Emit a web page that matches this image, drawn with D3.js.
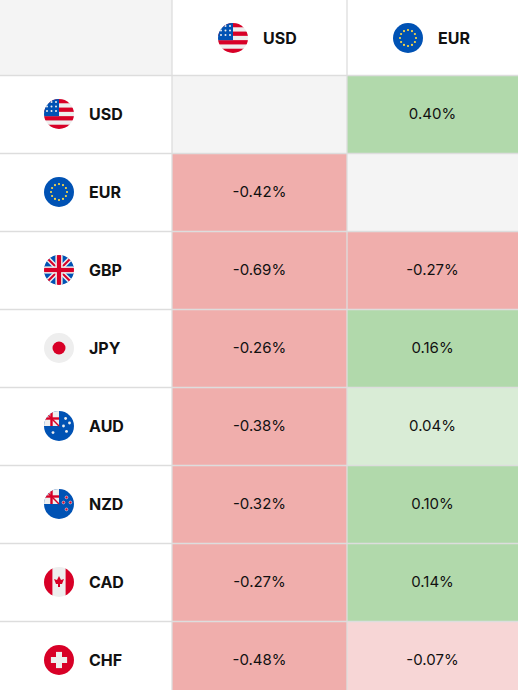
<!DOCTYPE html>
<html><head><meta charset="utf-8">
<script src="https://cdn.jsdelivr.net/npm/d3@7"></script>
<style>body{margin:0;background:#fff}svg{display:block;font-family:Inter,"Noto Sans",sans-serif}</style>
</head><body><svg id="c" width="518" height="690"></svg>
<script>
const rowCurrencies = ["USD","EUR","GBP","JPY","AUD","NZD","CAD","CHF"];
const colCurrencies = ["USD","EUR"];
const usdValues = [null,-0.42,-0.69,-0.26,-0.38,-0.32,-0.27,-0.48];
const eurValues = [0.40,null,-0.27,0.16,0.04,0.10,0.14,-0.07];
const seriesValues = [usdValues, eurValues];

const svg = d3.select("#c");
const x = d3.scaleOrdinal().domain(["label", ...colCurrencies]).range([0,172,347]);
const colW = {label:172, USD:175, EUR:171};
const y = d3.scaleBand().domain(["header", ...rowCurrencies]).range([-3,699]).padding(0);
const color = d3.scaleThreshold().domain([-0.1,0,0.1]).range(["#f0aeac","#f7d6d6","#d9ecd6","#b1d9ab"]);

const defs = svg.append("defs");
function flag(g, code, cx, cy, id){
  const r=15;
  defs.append("clipPath").attr("id",id).append("circle").attr("cx",cx).attr("cy",cy).attr("r",r);
  const f = g.append("g").attr("clip-path",`url(#${id})`);
  const bx=cx-r, by=cy-r, s=2*r;
  const rect=(a,b,w,h,c)=>f.append("rect").attr("x",bx+a*s).attr("y",by+b*s).attr("width",w*s).attr("height",h*s).attr("fill",c);
  if(code==="USD"){
    rect(0,0,1,1,"#eeeeee");
    for(let i=0;i<7;i+=2) rect(0,i/7,1,1/7,"#d80027");
    rect(0,0,0.5,4/7,"#0052b4");
    for(let i=0;i<3;i++)for(let j=0;j<3;j++) f.append("circle").attr("cx",bx+s*(0.1+j*0.15)).attr("cy",by+s*(0.1+i*0.15)).attr("r",1).attr("fill","#eee");
  } else if(code==="EUR"){
    rect(0,0,1,1,"#0052b4");
    for(let k=0;k<12;k++){const a=k*Math.PI/6;f.append("circle").attr("cx",cx+8*Math.cos(a)).attr("cy",cy+8*Math.sin(a)).attr("r",1.1).attr("fill","#ffda44");}
  } else if(code==="GBP"){
    rect(0,0,1,1,"#eeeeee");
    const bl=[[0.43,0],[0.43,0.57],[1,0.57],[0.57,1],[0,0.43],[0.57,0.43]];
    [[0,0,0.4,0.4],[0.6,0,0.4,0.4],[0,0.6,0.4,0.4],[0.6,0.6,0.4,0.4]].forEach(q=>rect(...q,"#0052b4"));
    f.append("line").attr("x1",bx).attr("y1",by).attr("x2",bx+s).attr("y2",by+s).attr("stroke","#eee").attr("stroke-width",5);
    f.append("line").attr("x1",bx+s).attr("y1",by).attr("x2",bx).attr("y2",by+s).attr("stroke","#eee").attr("stroke-width",5);
    f.append("line").attr("x1",bx).attr("y1",by).attr("x2",bx+s).attr("y2",by+s).attr("stroke","#d80027").attr("stroke-width",2);
    f.append("line").attr("x1",bx+s).attr("y1",by).attr("x2",bx).attr("y2",by+s).attr("stroke","#d80027").attr("stroke-width",2);
    rect(0.38,0,0.24,1,"#eee");rect(0,0.38,1,0.24,"#eee");
    rect(0.43,0,0.14,1,"#d80027");rect(0,0.43,1,0.14,"#d80027");
  } else if(code==="JPY"){
    rect(0,0,1,1,"#eeeeee");
    f.append("circle").attr("cx",cx).attr("cy",cy).attr("r",6.5).attr("fill","#d80027");
  } else if(code==="AUD"||code==="NZD"){
    rect(0,0,1,1,"#0052b4");
    rect(0,0,0.5,0.5,"#eee");
    f.append("line").attr("x1",bx).attr("y1",by).attr("x2",cx).attr("y2",cy).attr("stroke","#d80027").attr("stroke-width",1.5);
    rect(0.21,0,0.08,0.5,"#d80027");rect(0,0.21,0.5,0.08,"#d80027");
    const st = code==="AUD"?[[0.72,0.25],[0.85,0.4],[0.65,0.5],[0.75,0.68],[0.3,0.72]]:[[0.75,0.28],[0.88,0.45],[0.65,0.45],[0.75,0.68]];
    st.forEach(p=>f.append("circle").attr("cx",bx+p[0]*s).attr("cy",by+p[1]*s).attr("r",1.4).attr("fill",code==="AUD"?"#eee":"#d80027").attr("stroke",code==="NZD"?"#eee":"none").attr("stroke-width",0.6));
  } else if(code==="CAD"){
    rect(0,0,1,1,"#eeeeee");rect(0,0,0.28,1,"#d80027");rect(0.72,0,0.28,1,"#d80027");
    f.append("path").attr("d",`M${cx},${cy-6}L${cx+2},${cy-2}L${cx+5},${cy-3}L${cx+3},${cy+2}L${cx+1},${cy+2}L${cx+1},${cy+5}L${cx-1},${cy+5}L${cx-1},${cy+2}L${cx-3},${cy+2}L${cx-5},${cy-3}L${cx-2},${cy-2}Z`).attr("fill","#d80027");
  } else if(code==="CHF"){
    rect(0,0,1,1,"#d80027");
    rect(0.4,0.23,0.2,0.54,"#eee");rect(0.23,0.4,0.54,0.2,"#eee");
  }
}

// header
const head = svg.append("g");
head.append("rect").attr("x",0).attr("y",0).attr("width",172).attr("height",75).attr("fill","#f4f4f4");
colCurrencies.forEach((c,i)=>{
  const x0=x(c), cy=y("header")+y.bandwidth()/2+2;
  flag(head,c,x0+61,cy,"hf"+i);
  head.append("text").attr("x",x0+91).attr("y",cy).attr("dy","0.35em").attr("font-weight",700).attr("font-size",16).attr("fill","#111").text(c);
});

rowCurrencies.forEach((r,ri)=>{
  const g=svg.append("g");
  const y0=y(r), cy=y0+y.bandwidth()/2;
  flag(g,r,59,cy,"rf"+ri);
  g.append("text").attr("x",89).attr("y",cy).attr("dy","0.35em").attr("font-weight",700).attr("font-size",16).attr("fill","#111").text(r);
  colCurrencies.forEach((c,ci)=>{
    const v=seriesValues[ci][ri];
    g.append("rect").attr("x",x(c)).attr("y",y0).attr("width",colW[c]).attr("height",y.bandwidth()).attr("fill",v==null?"#f4f4f4":color(v));
    if(v!=null) g.append("text").attr("x",x(c)+colW[c]/2).attr("y",cy).attr("dy","0.35em").attr("text-anchor","middle").attr("font-size",15).attr("fill","#111").text(v.toFixed(2)+"%");
  });
});

// grid
const grid=svg.append("g").attr("stroke","#dddddd").attr("stroke-width",1.3);
rowCurrencies.forEach(r=>grid.append("line").attr("x1",0).attr("x2",518).attr("y1",y(r)+0.5).attr("y2",y(r)+0.5));
[172,347].forEach(v=>grid.append("line").attr("x1",v).attr("x2",v).attr("y1",0).attr("y2",690));
</script></body></html>
